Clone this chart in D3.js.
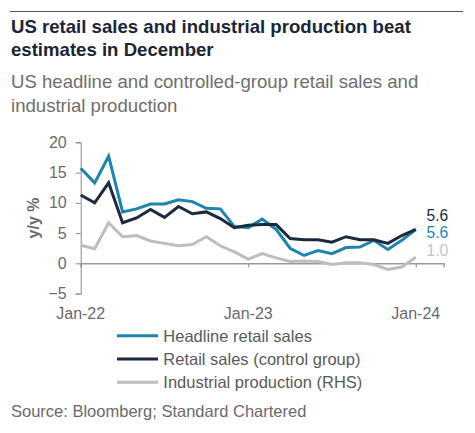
<!DOCTYPE html>
<html>
<head>
<meta charset="utf-8">
<script src="https://cdn.jsdelivr.net/npm/d3@7"></script>
<style>
  body { margin: 0; background: #fff; }
  svg text { font-family: "Liberation Sans", Arial, sans-serif; }
</style>
</head>
<body>
<div id="chart"></div>
<script>
var months = ["Jan-22","Feb-22","Mar-22","Apr-22","May-22","Jun-22","Jul-22","Aug-22","Sep-22","Oct-22","Nov-22","Dec-22",
              "Jan-23","Feb-23","Mar-23","Apr-23","May-23","Jun-23","Jul-23","Aug-23","Sep-23","Oct-23","Nov-23","Dec-23","Jan-24"];
var headline = [15.7, 13.3, 17.7, 8.5, 9.0, 9.8, 9.8, 10.5, 10.2, 9.1, 9.0, 6.1, 5.9, 7.3, 5.6, 2.5, 1.3, 2.1, 1.6, 2.6, 2.7, 3.8, 2.3, 3.8, 5.6];
var control  = [11.3, 10.0, 13.3, 6.7, 7.5, 8.9, 7.6, 9.4, 8.2, 8.5, 7.4, 5.9, 6.3, 6.4, 6.4, 4.1, 3.9, 3.9, 3.5, 4.4, 3.9, 3.9, 3.3, 4.6, 5.6];
var indprod  = [3.0, 2.4, 6.7, 4.4, 4.6, 3.7, 3.3, 2.9, 3.1, 4.4, 2.9, 1.9, 0.7, 1.6, 0.9, 0.3, 0.4, 0.3, -0.2, 0.1, 0.1, -0.2, -1.0, -0.6, 1.0];
var xTicks = [0, 12, 24];
var yTicks = [-5, 0, 5, 10, 15, 20];
var seriesNames = ["Headline retail sales", "Retail sales (control group)", "Industrial production (RHS)"];
var endLabels = ["5.6", "5.6", "1.0"];

var w = 475, h = 433;
var colors = ["#1b85ad", "#1c2a3b", "#bdbdbd"];

var svg = d3.select("#chart")
            .append("svg")
            .attr("width", w)
            .attr("height", h);

// header
svg.append("line")
    .attr("x1", 10).attr("x2", 463)
    .attr("y1", 11.5).attr("y2", 11.5)
    .attr("stroke", "#555")
    .attr("stroke-width", 1);

svg.selectAll("text.title")
    .data(["US retail sales and industrial production beat", "estimates in December"])
    .enter()
    .append("text")
    .attr("class", "title")
    .attr("x", 11)
    .attr("y", function(d, i) { return 33.3 + i * 22.7; })
    .attr("font-size", "18.6px")
    .attr("font-weight", "bold")
    .attr("fill", "#1a2636")
    .text(function(d) { return d; });

svg.selectAll("text.sub")
    .data(["US headline and controlled-group retail sales and", "industrial production"])
    .enter()
    .append("text")
    .attr("class", "sub")
    .attr("x", 11)
    .attr("y", function(d, i) { return 88 + i * 24; })
    .attr("font-size", "18.6px")
    .attr("fill", "#6e6e6e")
    .text(function(d) { return d; });

// scales
var x = d3.scaleLinear().domain([0, 26]).range([80.7, 443.7]);
var y = d3.scaleLinear().domain([-5, 20]).range([293.6, 142.3]);

// y axis
var yAxis = svg.append("g")
    .attr("transform", "translate(" + x(0) + ",0)")
    .call(d3.axisLeft(y).tickValues(yTicks).tickSize(5).tickPadding(9));
yAxis.select(".domain").attr("stroke", "#8a8a8a");
yAxis.selectAll(".tick line").attr("stroke", "#8a8a8a");
yAxis.selectAll(".tick text")
    .attr("font-size", "16px")
    .attr("fill", "#6a6a6a")
    .attr("font-family", "Liberation Sans, Arial, sans-serif");

// zero line with ticks
var xAxis = svg.append("g")
    .attr("transform", "translate(0," + y(0) + ")")
    .call(d3.axisBottom(x).tickValues(xTicks).tickSize(4).tickFormat(""));
xAxis.select(".domain").attr("stroke", "#9a9a9a").attr("stroke-width", 1.5);
xAxis.selectAll(".tick line").attr("stroke", "#8a8a8a");

svg.selectAll("text.xlab")
    .data(xTicks)
    .enter()
    .append("text")
    .attr("class", "xlab")
    .attr("x", function(d) { return x(d); })
    .attr("y", 318.5)
    .attr("text-anchor", "middle")
    .attr("font-size", "16px")
    .attr("fill", "#6a6a6a")
    .text(function(d) { return months[d]; });

svg.append("text")
    .attr("transform", "translate(38.5,218) rotate(-90)")
    .attr("text-anchor", "middle")
    .attr("font-size", "16px")
    .attr("font-weight", "bold")
    .attr("fill", "#6a6a6a")
    .text("y/y %");

// lines (grey first so it sits underneath)
var line = d3.line()
    .x(function(d, i) { return x(i); })
    .y(function(d) { return y(d); });

var series = [indprod, headline, control];
var seriesColors = [colors[2], colors[0], colors[1]];

svg.selectAll("path.series")
    .data(series)
    .enter()
    .append("path")
    .attr("class", "series")
    .attr("d", line)
    .attr("fill", "none")
    .attr("stroke", function(d, i) { return seriesColors[i]; })
    .attr("stroke-width", 3)
    .attr("stroke-linejoin", "miter");

// end labels
svg.selectAll("text.endlab")
    .data(endLabels)
    .enter()
    .append("text")
    .attr("class", "endlab")
    .attr("x", 426.5)
    .attr("y", function(d, i) { return 220.5 + i * 17.5; })
    .attr("font-size", "15.6px")
    .attr("fill", function(d, i) { return [colors[1], colors[0], "#c4c4c4"][i]; })
    .text(function(d) { return d; });

// legend
var legendColors = [colors[0], colors[1], colors[2]];
var leg = svg.selectAll("g.leg")
    .data(seriesNames)
    .enter()
    .append("g")
    .attr("class", "leg")
    .attr("transform", function(d, i) { return "translate(117," + (335.7 + i * 23.3) + ")"; });
leg.append("line")
    .attr("x1", 0).attr("x2", 41)
    .attr("stroke", function(d, i) { return legendColors[i]; })
    .attr("stroke-width", 3);
leg.append("text")
    .attr("x", 46.3)
    .attr("y", 6)
    .attr("font-size", "16.5px")
    .attr("fill", "#5a5a5a")
    .text(function(d) { return d; });

svg.append("text")
    .attr("x", 11)
    .attr("y", 416.5)
    .attr("font-size", "16.5px")
    .attr("fill", "#6a6a6a")
    .text("Source: Bloomberg; Standard Chartered");
</script>
</body>
</html>
